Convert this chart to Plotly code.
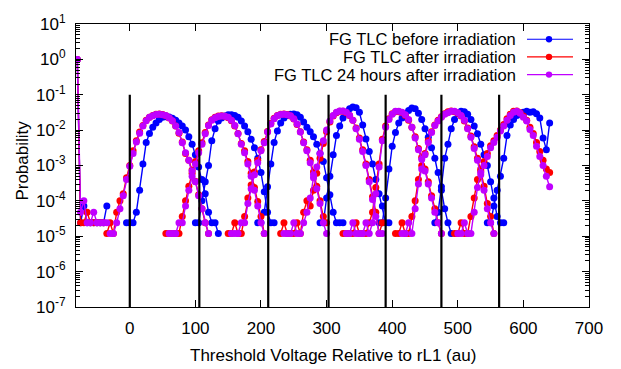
import plotly.graph_objects as go

STEP = 5  # x spacing of the histogram bins (au)

# ---------------- data (probabilities), one list per programmed state ----------------
# FG TLC before irradiation (blue)
blue_starts = [-80, -5, 100, 195, 290, 380, 465, 545]
b0 = [1.0, 2.4e-5, 7.2e-5, 2.4e-5, 2.4e-5, 2.4e-5, 2.4e-5, 2.4e-5, 2.4e-5, 7.2e-5]
b1 = [2.4e-5, 2.4e-5, 2.4e-5, 4.8e-5, 2.0e-4, 1.1e-3, 4.5e-3, 8.0e-3, 1.2e-2, 1.6e-2,
      2.0e-2, 2.3e-2, 2.4e-2, 2.35e-2, 2.15e-2, 1.9e-2, 1.6e-2, 1.3e-2, 1.0e-2, 6.5e-3,
      4.0e-3, 2.0e-3, 9.0e-4, 4.0e-4, 1.6e-4, 4.8e-5, 2.4e-5, 2.4e-5, 1.2e-5]
b2 = [2.4e-5, 2.4e-5, 1.0e-4, 3.5e-4, 1.0e-3, 5.0e-3, 1.1e-2, 1.8e-2, 2.2e-2, 2.5e-2,
      2.7e-2, 2.7e-2, 2.6e-2, 2.3e-2, 1.8e-2, 1.3e-2, 9.0e-3, 5.5e-3, 3.2e-3, 1.6e-3,
      6.3e-4, 1.8e-4, 4.8e-5, 2.4e-5, 2.4e-5]
b3 = [2.4e-5, 2.4e-5, 4.8e-5, 2.5e-4, 1.1e-3, 4.5e-3, 9.5e-3, 1.6e-2, 2.2e-2, 2.6e-2,
      2.8e-2, 2.85e-2, 2.7e-2, 2.3e-2, 1.7e-2, 1.2e-2, 9.0e-3, 6.5e-3, 4.0e-3, 2.2e-3,
      1.3e-3, 4.5e-4, 1.5e-4, 4.8e-5, 2.4e-5, 2.4e-5, 2.4e-5]
b4 = [2.4e-5, 2.4e-5, 1.2e-4, 5.0e-4, 2.0e-3, 7.0e-3, 1.3e-2, 2.2e-2, 3.2e-2, 4.0e-2,
      4.5e-2, 4.3e-2, 3.2e-2, 1.4e-2, 5.6e-3, 2.5e-3, 1.1e-3, 4.0e-4, 1.6e-4, 7.2e-5,
      2.4e-5, 2.4e-5]
b5 = [2.4e-5, 2.4e-5, 1.2e-4, 8.0e-4, 3.5e-3, 8.5e-3, 1.6e-2, 2.2e-2, 2.9e-2, 3.6e-2,
      4.2e-2, 4.0e-2, 3.0e-2, 2.0e-2, 1.1e-2, 6.3e-3, 3.2e-3, 1.6e-3, 6.3e-4, 2.0e-4,
      6.0e-5, 2.4e-5, 1.2e-5]
b6 = [2.4e-5, 4.8e-5, 2.5e-4, 1.6e-3, 4.0e-3, 1.1e-2, 2.0e-2, 3.0e-2, 3.4e-2, 3.3e-2,
      2.8e-2, 2.0e-2, 1.3e-2, 7.9e-3, 4.0e-3, 2.0e-3, 1.0e-3, 3.5e-4, 1.2e-4, 3.6e-5,
      2.4e-5, 2.4e-5]
b7 = [2.4e-5, 2.4e-5, 7.2e-5, 2.0e-4, 5.0e-4, 1.6e-3, 7.0e-3, 1.4e-2, 2.0e-2, 2.6e-2,
      2.9e-2, 3.2e-2, 3.4e-2, 3.2e-2, 3.3e-2, 2.9e-2, 2.2e-2, 6.0e-3, 2.8e-3, 1.6e-2]

# FG TLC after irradiation (red)
red_starts = [-80, -35, 55, 150, 230, 325, 405, 495]
r0 = [1.0, 2.4e-5, 2.4e-5, 4.8e-5, 2.4e-5, 2.4e-5, 2.4e-5, 2.4e-5, 2.4e-5]
r1 = [1.2e-5, 2.4e-5, 1.2e-5, 4.8e-5, 1.0e-4, 1.6e-4, 4.5e-4, 1.0e-3, 2.6e-3, 5.0e-3,
      8.8e-3, 1.35e-2, 1.9e-2, 2.3e-2, 2.6e-2, 2.8e-2, 2.85e-2, 2.75e-2, 2.55e-2, 2.2e-2,
      1.8e-2, 1.3e-2, 8.2e-3, 4.6e-3, 2.2e-3, 1.4e-3, 7.5e-4, 3.6e-4, 1.5e-4, 6.0e-5,
      2.4e-5, 1.2e-5]
r2 = [1.2e-5, 1.2e-5, 1.2e-5, 1.2e-5, 1.2e-5, 3.6e-5, 1.0e-4, 2.6e-4, 6.0e-4, 1.3e-3,
      2.6e-3, 4.4e-3, 8.5e-3, 1.4e-2, 1.95e-2, 2.3e-2, 2.5e-2, 2.55e-2, 2.45e-2, 2.25e-2,
      1.85e-2, 1.3e-2, 8.0e-3, 4.2e-3, 2.6e-3, 1.3e-3, 6.0e-4, 2.4e-4, 9.6e-5, 3.6e-5,
      1.2e-5]
r3 = [1.2e-5, 1.2e-5, 2.4e-5, 1.2e-5, 1.2e-5, 3.6e-5, 1.2e-4, 2.8e-4, 6.5e-4, 1.4e-3,
      2.8e-3, 4.8e-3, 9.2e-3, 1.55e-2, 2.15e-2, 2.6e-2, 2.8e-2, 2.85e-2, 2.75e-2, 2.5e-2,
      2.05e-2, 1.45e-2, 9.0e-3, 4.6e-3, 2.8e-3, 1.4e-3, 6.5e-4, 2.6e-4, 1.0e-4, 3.6e-5,
      2.4e-5]
r4 = [1.2e-5, 2.4e-5, 1.2e-5, 1.2e-5, 1.2e-5, 2.4e-5, 1.2e-5, 4.8e-5, 1.0e-4, 7.2e-5,
      2.0e-4, 6.0e-4, 1.6e-3, 4.2e-3, 9.0e-3, 1.7e-2, 2.5e-2, 3.1e-2, 3.4e-2, 3.4e-2,
      3.1e-2, 2.6e-2, 1.9e-2, 1.15e-2, 6.0e-3, 2.8e-3, 1.1e-3, 4.0e-4, 1.3e-4, 4.8e-5,
      1.2e-5, 2.4e-5]
r5 = [1.2e-5, 1.2e-5, 1.2e-5, 1.2e-5, 2.4e-5, 1.2e-5, 1.2e-5, 1.2e-5, 2.4e-5, 4.8e-5,
      2.4e-4, 1.1e-3, 5.5e-3, 1.3e-2, 2.1e-2, 2.9e-2, 3.3e-2, 3.3e-2, 3.1e-2, 2.6e-2,
      1.9e-2, 1.2e-2, 6.5e-3, 3.0e-3, 1.7e-3, 8.0e-4, 3.5e-4, 1.4e-4, 6.0e-5, 2.4e-5,
      1.2e-5]
r6 = [1.2e-5, 1.2e-5, 2.4e-5, 1.2e-5, 1.2e-5, 3.6e-5, 1.0e-4, 4.0e-4, 1.0e-3, 2.2e-3,
      5.0e-3, 9.0e-3, 1.4e-2, 1.9e-2, 2.4e-2, 2.9e-2, 3.3e-2, 3.5e-2, 3.3e-2, 3.0e-2,
      2.5e-2, 1.8e-2, 1.15e-2, 6.8e-3, 3.4e-3, 1.6e-3, 7.0e-4, 2.6e-4, 8.4e-5, 3.6e-5,
      1.2e-5]
r7 = [1.2e-5, 1.2e-5, 2.4e-5, 1.2e-5, 1.2e-5, 3.6e-5, 1.2e-4, 4.0e-4, 8.0e-4, 1.3e-3,
      2.2e-3, 3.6e-3, 5.0e-3, 7.0e-3, 1.0e-2, 1.45e-2, 2.1e-2, 2.8e-2, 3.4e-2, 3.5e-2,
      3.1e-2, 2.5e-2, 1.9e-2, 1.2e-2, 8.0e-3, 4.5e-3, 2.5e-3, 1.4e-3, 8.0e-4, 6.3e-4]

# FG TLC 24 hours after irradiation (purple)
purple_starts = [-80, -30, 60, 155, 235, 330, 415, 500]
p0 = [1.0, 4.8e-5, 1.0e-4, 2.4e-5, 2.4e-5, 4.8e-5, 2.4e-5, 2.4e-5, 2.4e-5, 2.4e-5]
p1 = [1.2e-5, 1.2e-5, 2.4e-5, 6.0e-5, 1.4e-4, 4.0e-4, 9.5e-4, 2.2e-3, 4.6e-3, 8.2e-3,
      1.3e-2, 1.85e-2, 2.3e-2, 2.55e-2, 2.75e-2, 2.8e-2, 2.7e-2, 2.6e-2, 2.25e-2, 1.85e-2,
      1.3e-2, 8.6e-3, 4.4e-3, 2.3e-3, 1.4e-3, 7.0e-4, 3.5e-4, 1.4e-4, 6.0e-5, 2.4e-5,
      1.2e-5]
p2 = [1.2e-5, 1.2e-5, 1.2e-5, 2.4e-5, 2.4e-5, 7.2e-5, 2.0e-4, 5.0e-4, 1.1e-3, 2.3e-3,
      4.0e-3, 7.9e-3, 1.35e-2, 1.9e-2, 2.25e-2, 2.44e-2, 2.5e-2, 2.45e-2, 2.3e-2, 1.9e-2,
      1.35e-2, 7.9e-3, 4.0e-3, 2.3e-3, 1.1e-3, 5.0e-4, 2.0e-4, 7.2e-5, 2.4e-5, 1.2e-5]
p3 = [1.2e-5, 1.2e-5, 1.2e-5, 2.4e-5, 2.4e-5, 8.4e-5, 2.2e-4, 5.5e-4, 1.2e-3, 2.6e-3,
      4.4e-3, 8.8e-3, 1.5e-2, 2.1e-2, 2.55e-2, 2.75e-2, 2.8e-2, 2.72e-2, 2.55e-2, 2.1e-2,
      1.5e-2, 8.8e-3, 4.4e-3, 2.6e-3, 1.2e-3, 5.5e-4, 2.2e-4, 8.4e-5, 2.4e-5, 1.2e-5]
p4 = [1.2e-5, 1.2e-5, 1.2e-5, 2.4e-5, 1.2e-5, 1.2e-5, 2.4e-5, 4.8e-5, 1.2e-4, 4.5e-4,
      9.0e-4, 2.2e-3, 5.0e-3, 1.0e-2, 1.8e-2, 2.6e-2, 3.2e-2, 3.5e-2, 3.45e-2, 3.2e-2,
      2.65e-2, 1.9e-2, 1.1e-2, 5.5e-3, 2.5e-3, 1.0e-3, 3.5e-4, 1.1e-4, 3.6e-5, 1.2e-5,
      1.2e-5]
p5 = [1.2e-5, 1.2e-5, 2.4e-5, 1.2e-5, 1.2e-5, 1.2e-5, 2.4e-5, 1.2e-5, 2.4e-5, 1.6e-4,
      9.0e-4, 5.0e-3, 1.2e-2, 2.0e-2, 2.8e-2, 3.4e-2, 3.4e-2, 3.2e-2, 2.7e-2, 2.0e-2,
      1.2e-2, 6.0e-3, 2.8e-3, 1.5e-3, 7.0e-4, 3.0e-4, 1.2e-4, 4.8e-5, 2.4e-5, 1.2e-5]
p6 = [1.2e-5, 1.2e-5, 2.4e-5, 1.2e-5, 6.0e-5, 3.0e-4, 8.0e-4, 2.0e-3, 4.5e-3, 8.5e-3,
      1.35e-2, 1.8e-2, 2.3e-2, 2.8e-2, 3.1e-2, 3.4e-2, 3.4e-2, 3.1e-2, 2.6e-2, 1.9e-2,
      1.1e-2, 6.3e-3, 3.0e-3, 1.4e-3, 5.5e-4, 2.0e-4, 6.0e-5, 2.4e-5, 1.2e-5]
p7 = [1.2e-5, 1.2e-5, 2.4e-5, 1.2e-5, 1.2e-5, 4.8e-5, 2.4e-4, 6.3e-4, 1.0e-3, 1.8e-3,
      3.2e-3, 4.5e-3, 6.3e-3, 9.5e-3, 1.3e-2, 1.9e-2, 2.6e-2, 3.2e-2, 3.4e-2, 3.0e-2,
      2.3e-2, 1.8e-2, 1.05e-2, 7.0e-3, 3.5e-3, 1.8e-3, 1.0e-3, 5.0e-4, 2.5e-4]

# read reference voltages (vertical black lines) and their extent
read_levels = [0, 106, 211, 303, 390, 475, 563]
read_line_bottom, read_line_top = 1e-7, 1e-1

series_names = ["FG TLC before irradiation", "FG TLC after irradiation",
                "FG TLC 24 hours after irradiation"]
colors = ["#0000ff", "#ff0000", "#c000ff"]

x_ticks = [0, 100, 200, 300, 400, 500, 600, 700]
y_exponents = [-7, -6, -5, -4, -3, -2, -1, 0, 1]


def build(starts, states):
    xs, ys = [], []
    for s, vals in zip(starts, states):
        xs += [s + STEP * i for i in range(len(vals))] + [None]
        ys += list(vals) + [None]
    return xs, ys


fig = go.Figure()
all_series = [
    (blue_starts, [b0, b1, b2, b3, b4, b5, b6, b7]),
    (red_starts, [r0, r1, r2, r3, r4, r5, r6, r7]),
    (purple_starts, [p0, p1, p2, p3, p4, p5, p6, p7]),
]
for (starts, states), name, col in zip(all_series, series_names, colors):
    xs, ys = build(starts, states)
    fig.add_trace(go.Scatter(
        x=xs, y=ys, name=name, mode="lines+markers",
        line=dict(color=col, width=1.4),
        marker=dict(color=col, size=7, line=dict(width=0)),
        connectgaps=False, showlegend=False))

vx, vy = [], []
for v in read_levels:
    vx += [v, v, None]
    vy += [read_line_bottom, read_line_top, None]
fig.add_trace(go.Scatter(x=vx, y=vy, mode="lines",
                         line=dict(color="black", width=2.2), showlegend=False))

FONT = "Liberation Sans, Arial, Helvetica, sans-serif"
FS = 17
L, R, T, B = 76, 32, 19, 62
W, H = 621, 369
PW, PH = W - L - R, H - T - B


def px2paper_x(px):
    return (px - L) / PW


def px2paper_y(py):
    return (H - B - py) / PH


annotations = [
    dict(text="Threshold Voltage Relative to rL1 (au)", xref="paper", yref="paper",
         x=px2paper_x(333), y=px2paper_y(356), xanchor="center", yanchor="middle",
         showarrow=False, font=dict(size=FS, family=FONT, color="black")),
    dict(text="Probability", xref="paper", yref="paper", textangle=-90,
         x=px2paper_x(23), y=px2paper_y(158), xanchor="center", yanchor="middle",
         showarrow=False, font=dict(size=FS, family=FONT, color="black")),
]
shapes = []
legend_rows = [34.5, 52.5, 70.5]
for name, col, row in zip(series_names, colors, legend_rows):
    annotations.append(dict(text=name, xref="paper", yref="paper",
                            x=px2paper_x(517), y=px2paper_y(row),
                            xanchor="right", yanchor="middle", showarrow=False,
                            borderpad=0,
                            font=dict(size=16.5, family=FONT, color="black")))
    shapes.append(dict(type="line", xref="paper", yref="paper",
                       x0=px2paper_x(527), x1=px2paper_x(573),
                       y0=px2paper_y(row), y1=px2paper_y(row),
                       line=dict(color=col, width=1.2)))
    r = 3.2
    shapes.append(dict(type="circle", xref="paper", yref="paper",
                       x0=px2paper_x(549 - r), x1=px2paper_x(549 + r),
                       y0=px2paper_y(row + r), y1=px2paper_y(row - r),
                       fillcolor=col, line=dict(width=0)))

fig.update_layout(
    width=W, height=H, margin=dict(l=L, r=R, t=T, b=B, pad=0),
    plot_bgcolor="white", paper_bgcolor="white", showlegend=False,
    font=dict(family=FONT, size=FS, color="black"),
    annotations=annotations, shapes=shapes,
)
fig.update_xaxes(
    range=[-82, 700], tickvals=x_ticks, ticks="inside", ticklen=7, tickwidth=1,
    tickcolor="black", showline=True, linecolor="black", linewidth=1.2,
    mirror="ticks", showgrid=False, zeroline=False, ticklabelstandoff=5,
    tickfont=dict(size=FS, family=FONT, color="black"),
)
minor_vals = [k * 10.0 ** e for e in range(-7, 1) for k in range(2, 10)]
fig.update_yaxes(
    type="log", range=[-7, 1],
    tickvals=[10.0 ** e for e in y_exponents],
    ticktext=["10<sup>%d</sup>" % e for e in y_exponents],
    ticks="inside", ticklen=7, tickwidth=1, tickcolor="black",
    minor=dict(tickvals=minor_vals, ticks="inside", ticklen=4, tickwidth=1,
               tickcolor="black", showgrid=False),
    showline=True, linecolor="black", linewidth=1.2, mirror="ticks",
    showgrid=False, zeroline=False, ticklabelstandoff=6,
    tickfont=dict(size=FS, family=FONT, color="black"),
)

fig.write_html("out.html", post_script="document.body.style.margin='0';")
